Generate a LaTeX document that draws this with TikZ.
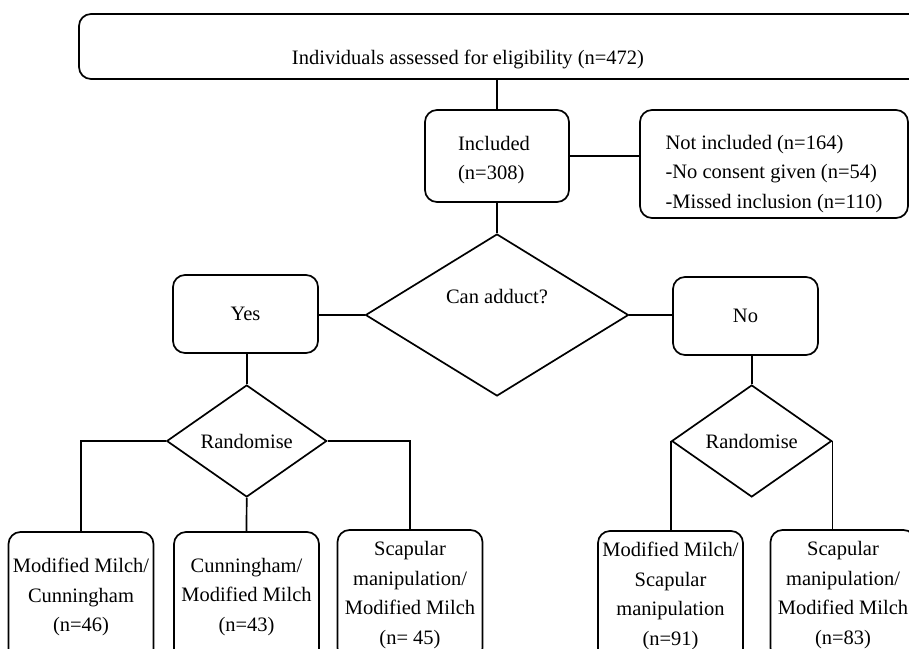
\documentclass[tikz,border=0pt]{standalone}
\usepackage{fontspec}
\setmainfont{Liberation Serif}
\usepackage{tikz}
\usetikzlibrary{shapes.geometric}
\def\flowbox{\node[draw=black,line width=1.7pt,rounded corners=12pt,align=center,inner sep=0pt]}
\def\choicenode{\node[diamond,draw=black,line width=1.7pt,inner sep=0pt]}
\def\drawlink{\draw[line width=1.7pt]}

\begin{document}
\begin{tikzpicture}[x=1pt,y=-1pt,font=\fontsize{20.5}{29.5}\selectfont]
\useasboundingbox (0,0) rectangle (909,648);
\flowbox[minimum width=846,minimum height=65] (assess) at (502,46.5) {};
\node (assesstxt) at (468,59) {Individuals assessed for eligibility (n=472)};
\flowbox[minimum width=144,minimum height=92] (incl) at (497,156) {};
\node[align=left] (incltxt) at (494,160) {Included\\(n=308)};
\flowbox[minimum width=268,minimum height=108] (notinc) at (774,164) {};
\node[align=left] (notinctxt) at (774,174) {Not included (n=164)\\-No consent given (n=54)\\-Missed inclusion (n=110)};
\choicenode[minimum width=263,minimum height=162] (adduct) at (497,315) {};
\node (adducttxt) at (497,297) {Can adduct?};
\flowbox[minimum width=145,minimum height=78] (yes) at (245.5,314) {Yes};
\flowbox[minimum width=145,minimum height=78] (no) at (745.5,316) {No};
\choicenode[minimum width=160,minimum height=112,shape aspect=1.43] (randl) at (246.7,441) {Randomise};
\choicenode[minimum width=160,minimum height=112,shape aspect=1.43] (randr) at (751.7,441) {Randomise};
\flowbox[minimum width=145,minimum height=130] (b1) at (81,597) {Modified Milch/\\Cunningham\\(n=46)};
\flowbox[minimum width=145,minimum height=130] (b2) at (246.5,597) {Cunningham/\\Modified Milch\\(n=43)};
\flowbox[minimum width=145,minimum height=130] (b3) at (410,595) {Scapular\\manipulation/\\Modified Milch\\(n= 45)};
\flowbox[minimum width=145,minimum height=130] (b4) at (670.5,596) {Modified Milch/\\Scapular\\manipulation\\(n=91)};
\flowbox[minimum width=145,minimum height=130] (b5) at (843,595) {Scapular\\manipulation/\\Modified Milch\\(n=83)};
\drawlink (incl.north |- assess.south) -- (incl.north);
\drawlink (incl.east) -- (incl.east -| notinc.west);
\drawlink (incl.south) -- (adduct.north);
\drawlink (adduct.west -| yes.east) -- (adduct.west);
\drawlink (adduct.east) -- (adduct.east -| no.west);
\drawlink (randl.north |- yes.south) -- (randl.north);
\drawlink (randr.north |- no.south) -- (randr.north);
\drawlink (randl.west) -| (b1.north);
\drawlink (randl.south) -- (b2.north);
\drawlink (randl.east) -| (b3.north);
\drawlink (randr.west) -- (randr.west |- b4.north);
\drawlink (randr.east) -- (randr.east |- b5.north);
\end{tikzpicture}
\end{document}
